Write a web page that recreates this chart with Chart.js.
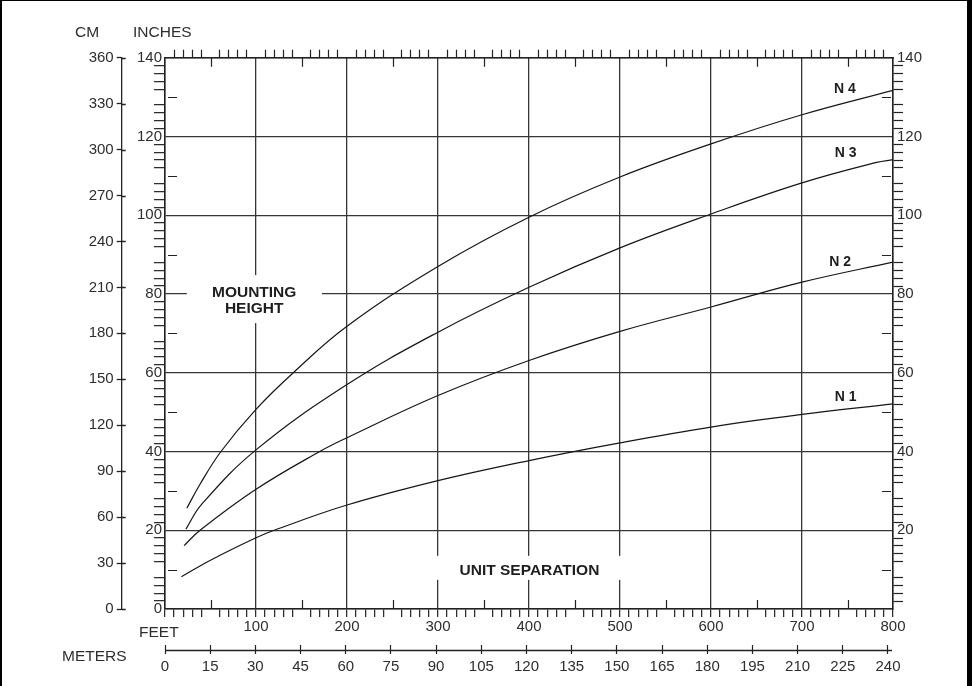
<!DOCTYPE html>
<html>
<head>
<meta charset="utf-8">
<script src="https://cdn.jsdelivr.net/npm/chart.js@4/dist/chart.umd.min.js"></script>
<style>
html,body{margin:0;padding:0;background:#fff;}
canvas{display:block;}
</style>
</head>
<body>
<canvas id="c" width="972" height="686"></canvas>
<script>
// ---------- data ----------
const SERIES_NAMES = ['N 1', 'N 2', 'N 3', 'N 4'];
const N1_FEET   = [18, 50, 100, 120, 200, 300, 400, 500, 600, 700, 800];
const N1_INCHES = [8.2, 12.4, 18.1, 20, 26.4, 32.6, 37.7, 42.2, 46.2, 49.4, 52.1];
const N2_FEET   = [21, 38.5, 100, 170, 200, 300, 400, 500, 600, 700, 800];
const N2_INCHES = [16.1, 20, 30.4, 40, 43.5, 54.2, 63.1, 70.5, 76.7, 83.0, 88.1];
const N3_FEET   = [23, 40, 100, 200, 300, 400, 500, 600, 700, 782, 800];
const N3_INCHES = [20.3, 26.5, 40.4, 57, 70.3, 81.7, 91.7, 100.3, 108.2, 113.4, 114.1];
const N4_FEET   = [24, 38, 61.5, 100, 141, 200, 300, 400, 500, 600, 700, 800];
const N4_INCHES = [25.6, 31.5, 40, 50.7, 60, 71.8, 87.0, 99.5, 109.7, 118.1, 125.5, 131.7];

// tick labels
const FEET_LABELS   = [100, 200, 300, 400, 500, 600, 700, 800];
const INCH_LABELS   = [0, 20, 40, 60, 80, 100, 120, 140];
const CM_LABELS     = [0, 30, 60, 90, 120, 150, 180, 210, 240, 270, 300, 330, 360];
const METER_LABELS  = [0, 15, 30, 45, 60, 75, 90, 105, 120, 135, 150, 165, 180, 195, 210, 225, 240];

// ---------- styles ----------
const DARK = '#222222';
const GRID = '#363636';
const TXT  = '#2e2e2e';
Chart.defaults.font.family = "'Liberation Sans', Arial, Helvetica, sans-serif";
Chart.defaults.font.size = 15;
Chart.defaults.color = TXT;

const feetMinor = []; for (let v = 0; v <= 800; v += 10) feetMinor.push(v);
const inchMinor = []; for (let v = 0; v <= 140; v += 2) inchMinor.push(v);

const series = [
  [N1_FEET, N1_INCHES], [N2_FEET, N2_INCHES], [N3_FEET, N3_INCHES], [N4_FEET, N4_INCHES]
];

const decor = {
  id: 'decor',
  beforeDatasetsDraw(chart) {
    const {ctx, chartArea: a, scales} = chart;
    const x = scales.x, y = scales.y;
    ctx.save();
    // gaps in the grid behind the annotations
    ctx.fillStyle = '#fff';
    const box = (f0, f1, i0, i1) => {
      const X0 = x.getPixelForValue(f0), X1 = x.getPixelForValue(f1);
      const Y0 = y.getPixelForValue(i1), Y1 = y.getPixelForValue(i0);
      ctx.fillRect(X0, Y0, X1 - X0, Y1 - Y0);
    };
    box(24, 172.5, 72.6, 84.8);
    box(290, 510, 7.4, 13.5);
    // inner ticks
    ctx.strokeStyle = DARK; ctx.lineWidth = 1.2;
    ctx.beginPath();
    for (let v = 10; v < 140; v += 20) {
      const py = Math.round(y.getPixelForValue(v)) + 0.5;
      ctx.moveTo(a.left + 3, py); ctx.lineTo(a.left + 12, py);
      ctx.moveTo(a.right - 11, py); ctx.lineTo(a.right - 2, py);
    }
    for (let f = 50; f < 800; f += 100) {
      const px = Math.round(x.getPixelForValue(f)) + 0.5;
      ctx.moveTo(px, a.top); ctx.lineTo(px, a.top + 9);
      ctx.moveTo(px, a.bottom - 9); ctx.lineTo(px, a.bottom);
    }
    ctx.stroke();
    // annotations
    ctx.fillStyle = '#1e1e1e';
    ctx.textAlign = 'center'; ctx.textBaseline = 'middle';
    ctx.font = "bold 15.5px 'Liberation Sans', Arial, sans-serif";
    ctx.fillText('MOUNTING', x.getPixelForValue(98), y.getPixelForValue(80.4));
    ctx.fillText('HEIGHT', x.getPixelForValue(98), y.getPixelForValue(76.2));
    ctx.fillText('UNIT SEPARATION', x.getPixelForValue(400.5), y.getPixelForValue(9.6));
    ctx.font = "bold 14px 'Liberation Sans', Arial, sans-serif";
    const nPos = [[748, 53.8], [742, 88.1], [748, 115.7], [747, 131.9]];
    SERIES_NAMES.forEach((n, i) => ctx.fillText(n, x.getPixelForValue(nPos[i][0]), y.getPixelForValue(nPos[i][1])));
    ctx.restore();
  },
  afterDraw(chart) {
    const {ctx, scales} = chart;
    const m = scales.m, cm = scales.cm;
    ctx.save();
    ctx.strokeStyle = DARK; ctx.lineWidth = 1.3;
    ctx.beginPath();
    // meters axis line through the tick marks
    const my = Math.round(m.top + 4.5) + 0.5;
    ctx.moveTo(m.getPixelForValue(0), my);
    ctx.lineTo(m.getPixelForValue(240) + 4, my);
    // cm ticks crossing their axis
    CM_LABELS.forEach(v => {
      const py = Math.round(cm.getPixelForValue(v)) + 0.5;
      ctx.moveTo(cm.right, py); ctx.lineTo(cm.right + 4, py);
    });
    ctx.stroke();
    // axis names
    ctx.fillStyle = TXT; ctx.textBaseline = 'middle'; ctx.textAlign = 'left';
    ctx.font = "15.5px 'Liberation Sans', Arial, sans-serif";
    ctx.fillText('CM', 75, 33);
    ctx.fillText('INCHES', 133, 33);
    ctx.fillText('FEET', 139, 633);
    ctx.fillText('METERS', 62, 657);
    // frame
    ctx.fillStyle = '#000';
    ctx.fillRect(0, 0, 2, 686);
    ctx.fillRect(0, 0, 972, 1);
    ctx.fillRect(967, 0, 5, 686);
    ctx.restore();
  }
};

new Chart(document.getElementById('c'), {
  type: 'scatter',
  data: {
    datasets: series.map((s, i) => ({
      label: SERIES_NAMES[i],
      data: s[0].map((f, j) => ({x: f, y: s[1][j]})),
      showLine: true,
      borderColor: '#161616',
      borderWidth: 1.2,
      pointRadius: 0,
      pointHoverRadius: 0,
      fill: false,
      tension: 0.4,
      xAxisID: 'x', yAxisID: 'y'
    }))
  },
  options: {
    responsive: false,
    animation: false,
    devicePixelRatio: 1,
    layout: {padding: {left: 81.7, right: 39, top: 47.7, bottom: 11}},
    plugins: {legend: {display: false}, tooltip: {enabled: false}},
    scales: {
      x: {
        type: 'linear', position: 'bottom', min: 0, max: 800, weight: 0,
        afterBuildTicks: ax => { ax.ticks = feetMinor.map(v => ({value: v})); },
        afterFit: ax => { ax.height = 36; },
        ticks: {autoSkip: false, maxRotation: 0, padding: 1,
          callback: v => FEET_LABELS.includes(v) ? String(v) : ''},
        grid: {
          lineWidth: 1.3, tickLength: 8, tickWidth: 1.2,
          color: c => (c.tick && c.tick.value % 100 === 0) ? GRID : 'rgba(0,0,0,0)',
          tickColor: c => (c.tick && c.tick.value % 50 === 0 && c.tick.value % 100 !== 0) ? 'rgba(0,0,0,0)' : DARK
        },
        border: {color: DARK, width: 1.5}
      },
      m: {
        type: 'linear', position: 'bottom', min: 0, max: 241.66, weight: 1,
        afterBuildTicks: ax => { ax.ticks = METER_LABELS.map(v => ({value: v})); },
        afterFit: ax => { ax.height = 30; },
        ticks: {autoSkip: false, maxRotation: 0, padding: 4},
        grid: {drawOnChartArea: false, tickLength: 9, tickWidth: 1.2, tickColor: DARK},
        border: {display: false}
      },
      xt: {
        type: 'linear', position: 'top', min: 0, max: 800,
        afterBuildTicks: ax => { ax.ticks = feetMinor.map(v => ({value: v})); },
        afterFit: ax => { ax.height = 10; },
        ticks: {autoSkip: false, maxRotation: 0, padding: 0, callback: () => ''},
        grid: {
          drawOnChartArea: false, tickLength: 8, tickWidth: 1.2,
          tickColor: c => (c.tick && c.tick.value % 50 === 0) ? 'rgba(0,0,0,0)' : DARK
        },
        border: {color: DARK, width: 1.5}
      },
      y: {
        type: 'linear', position: 'left', min: 0, max: 140, weight: 0,
        afterBuildTicks: ax => { ax.ticks = inchMinor.map(v => ({value: v})); },
        afterFit: ax => { ax.width = 43.3; },
        ticks: {autoSkip: false, padding: -8,
          callback: v => INCH_LABELS.includes(v) ? String(v) : ''},
        grid: {
          lineWidth: 1.3, tickLength: 11, tickWidth: 1.2,
          color: c => (c.tick && c.tick.value % 20 === 0) ? GRID : 'rgba(0,0,0,0)',
          tickColor: c => (c.tick && c.tick.value % 10 === 0) ? 'rgba(0,0,0,0)' : DARK
        },
        border: {color: DARK, width: 1.5}
      },
      cm: {
        type: 'linear', position: 'left', min: 0, max: 360, weight: 1,
        afterBuildTicks: ax => { ax.ticks = CM_LABELS.map(v => ({value: v})); },
        afterFit: ax => { ax.width = 40; },
        ticks: {autoSkip: false, padding: 3},
        grid: {drawOnChartArea: false, tickLength: 5, tickWidth: 1.3, tickColor: DARK},
        border: {color: DARK, width: 1.3}
      },
      yr: {
        type: 'linear', position: 'right', min: 0, max: 140,
        afterBuildTicks: ax => { ax.ticks = inchMinor.map(v => ({value: v})); },
        afterFit: ax => { ax.width = 40; },
        ticks: {autoSkip: false, padding: -6,
          callback: v => (INCH_LABELS.includes(v) && v > 0) ? String(v) : ''},
        grid: {
          drawOnChartArea: false, tickLength: 10, tickWidth: 1.2,
          tickColor: c => (c.tick && c.tick.value % 10 === 0) ? 'rgba(0,0,0,0)' : DARK
        },
        border: {color: DARK, width: 1.5}
      }
    }
  },
  plugins: [decor]
});
</script>
</body>
</html>
